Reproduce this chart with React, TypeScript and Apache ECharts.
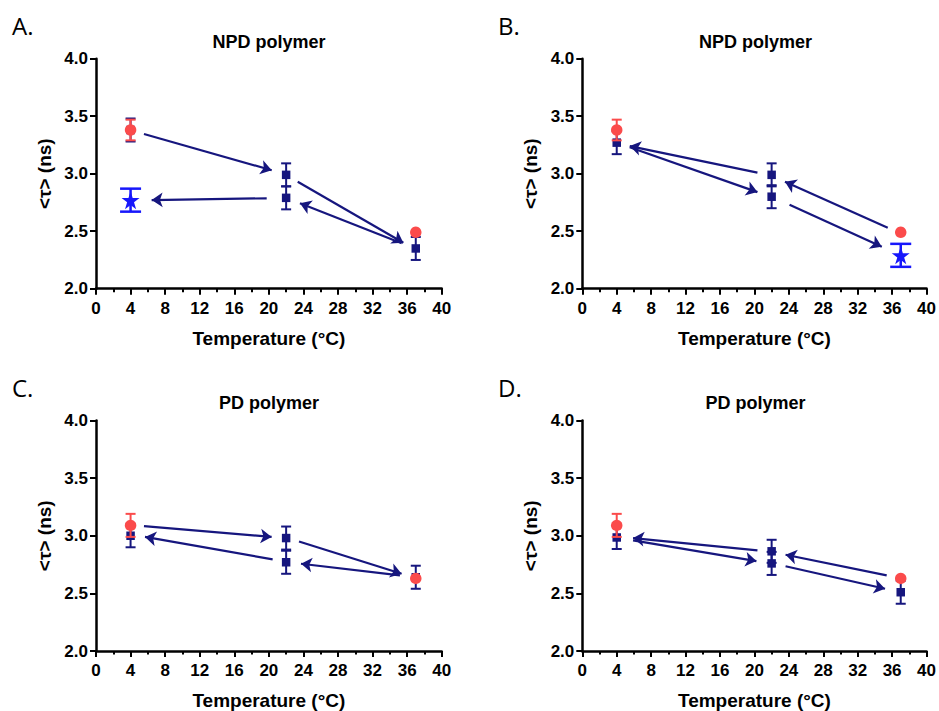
import React, { useEffect, useRef } from "react";
import * as echarts from "echarts";

// ---- axis ticks & labels ----
const xTicks = [0, 4, 8, 12, 16, 20, 24, 28, 32, 36, 40];
const yTicks = [2.0, 2.5, 3.0, 3.5, 4.0];
const panelLetters = ["A.", "B.", "C.", "D."];
const panelTitles = ["NPD polymer", "NPD polymer", "PD polymer", "PD polymer"];
const xAxisTitle = "Temperature (°C)";
const yAxisTitle = "<τ> (ns)";

// ---- data: [temperature °C, mean <τ> ns, error ns] ----
const navyA = [[4, 3.38, 0.1], [22, 2.99, 0.1], [22, 2.79, 0.1], [37, 2.35, 0.1]];
const redA = [[4, 3.38, 0.09], [37, 2.49, 0]];
const starA = [[4, 2.77, 0.1]];
const navyB = [[4, 3.27, 0.1], [22, 2.99, 0.1], [22, 2.8, 0.1]];
const redB = [[4, 3.38, 0.09], [37, 2.49, 0]];
const starB = [[37, 2.29, 0.1]];
const navyC = [[4, 3.0, 0.1], [22, 2.98, 0.1], [22, 2.77, 0.1], [37, 2.64, 0.1]];
const redC = [[4, 3.09, 0.1], [37, 2.63, 0]];
const starC: number[][] = [];
const navyD = [[4, 2.985, 0.1], [22, 2.865, 0.1], [22, 2.76, 0.1], [37, 2.51, 0.1]];
const redD = [[4, 3.09, 0.1], [37, 2.63, 0]];
const starD: number[][] = [];

// ---- arrows: [x1, y1, x2, y2] (arrowhead at the second point) ----
const arrowsA = [[5.55, 3.345, 20.33, 3.03], [19.75, 2.786, 6.44, 2.771], [23.34, 2.93, 35.56, 2.4], [35.37, 2.395, 23.6, 2.743]];
const arrowsB = [[20.35, 3.01, 5.51, 3.24], [5.51, 3.23, 20.35, 2.84], [35.49, 2.53, 23.55, 2.93], [24.08, 2.73, 34.8, 2.365]];
const arrowsC = [[5.55, 3.084, 20.32, 2.99], [20.44, 2.795, 5.67, 2.99], [23.49, 2.95, 35.36, 2.67], [35.17, 2.656, 23.72, 2.757]];
const arrowsD = [[20.35, 2.873, 5.9, 2.98], [5.9, 2.96, 20.23, 2.78], [35.37, 2.656, 23.62, 2.835], [23.62, 2.735, 35.18, 2.54]];

const navyAll = [navyA, navyB, navyC, navyD];
const redAll = [redA, redB, redC, redD];
const starAll = [starA, starB, starC, starD];
const arrowsAll = [arrowsA, arrowsB, arrowsC, arrowsD];

// ---- layout ----
const grids = [
  { left: 96, top: 58.7, width: 345.7, height: 230 },
  { left: 582.3, top: 58.7, width: 346, height: 230 },
  { left: 96, top: 420.5, width: 345.7, height: 230.5 },
  { left: 582.3, top: 420.5, width: 346, height: 230.5 },
];
const letterPos = [[12, 25], [498, 25], [12, 387], [498, 387.5]];
const titlePos = [[269, 41.7], [755.5, 41.7], [269, 403], [755.5, 402.7]];

const NAVY = "#16167e";
const RED = "#fb4b4b";
const BLUE = "#1717fb";
const FONT = "'Liberation Sans', Arial, sans-serif";
const STAR = "path://M50,0 L61.2,34.5 L97.6,34.5 L68.2,55.9 L79.4,90.5 L50,69.1 L20.6,90.5 L31.8,55.9 L2.4,34.5 L38.8,34.5 Z";

function errRender(color: string, half: number, lw: number) {
  return (params: any, api: any) => {
    const x = api.value(0);
    const y = api.value(1);
    const e = api.value(2);
    if (!e) return null;
    const t = api.coord([x, y + e]);
    const b = api.coord([x, y - e]);
    const st = { stroke: color, lineWidth: lw };
    return {
      type: "group",
      children: [
        { type: "line", shape: { x1: t[0], y1: t[1], x2: b[0], y2: b[1] }, style: st },
        { type: "line", shape: { x1: t[0] - half, y1: t[1], x2: t[0] + half, y2: t[1] }, style: st },
        { type: "line", shape: { x1: b[0] - half, y1: b[1], x2: b[0] + half, y2: b[1] }, style: st },
      ],
    };
  };
}

export default function App() {
  const ref = useRef<HTMLDivElement>(null);
  useEffect(() => {
    if (!ref.current) return;
    const chart = echarts.init(ref.current, undefined, { renderer: "svg" });
    const xAxis: any[] = [];
    const yAxis: any[] = [];
    const series: any[] = [];
    const graphic: any[] = [];
    grids.forEach((g, i) => {
      xAxis.push({
        gridIndex: i,
        type: "value",
        min: xTicks[0],
        max: xTicks[xTicks.length - 1],
        interval: xTicks[1] - xTicks[0],
        axisLine: { show: true, onZero: false, lineStyle: { color: "#000", width: 2.5 } },
        axisTick: { show: true, length: 6, lineStyle: { color: "#000", width: 2 } },
        minorTick: { show: true, splitNumber: 2, length: 3.5, lineStyle: { color: "#000", width: 2 } },
        splitLine: { show: false },
        minorSplitLine: { show: false },
        axisLabel: { color: "#000", fontSize: 17, fontWeight: "bold", fontFamily: FONT, margin: 11 },
        name: xAxisTitle,
        nameLocation: "middle",
        nameGap: 40,
        nameTextStyle: { color: "#000", fontSize: 19, fontWeight: "bold", fontFamily: FONT },
      });
      yAxis.push({
        gridIndex: i,
        type: "value",
        min: yTicks[0],
        max: yTicks[yTicks.length - 1],
        interval: yTicks[1] - yTicks[0],
        axisLine: { show: true, onZero: false, lineStyle: { color: "#000", width: 2.5 } },
        axisTick: { show: true, length: 6, lineStyle: { color: "#000", width: 2 } },
        splitLine: { show: false },
        axisLabel: {
          color: "#000",
          fontSize: 17,
          fontWeight: "bold",
          fontFamily: FONT,
          margin: 8,
          formatter: (v: number) => v.toFixed(1),
        },
        name: yAxisTitle,
        nameLocation: "middle",
        nameGap: 42,
        nameTextStyle: { color: "#000", fontSize: 19, fontWeight: "bold", fontFamily: FONT },
      });
      const common = { xAxisIndex: i, yAxisIndex: i, silent: true };
      series.push({
        ...common,
        type: "custom",
        renderItem: errRender(NAVY, 5, 2),
        data: navyAll[i],
        encode: { x: 0, y: 1 },
        z: 2,
      });
      series.push({
        ...common,
        type: "scatter",
        symbol: "rect",
        symbolSize: 8.5,
        itemStyle: { color: NAVY, opacity: 1 },
        data: navyAll[i].map((d) => [d[0], d[1]]),
        z: 3,
      });
      series.push({
        ...common,
        type: "custom",
        renderItem: errRender(RED, 5, 2),
        data: redAll[i],
        encode: { x: 0, y: 1 },
        z: 4,
      });
      series.push({
        ...common,
        type: "scatter",
        symbol: "circle",
        symbolSize: 11.5,
        itemStyle: { color: RED, opacity: 1 },
        data: redAll[i].map((d) => [d[0], d[1]]),
        z: 5,
      });
      if (starAll[i].length) {
        series.push({
          ...common,
          type: "custom",
          renderItem: errRender(BLUE, 10.5, 2.5),
          data: starAll[i],
          encode: { x: 0, y: 1 },
          z: 6,
        });
        series.push({
          ...common,
          type: "scatter",
          symbol: STAR,
          symbolSize: 18,
          itemStyle: { color: BLUE, opacity: 1 },
          data: starAll[i].map((d) => [d[0], d[1]]),
          z: 7,
        });
      }
      series.push({
        ...common,
        type: "lines",
        coordinateSystem: "cartesian2d",
        symbol: ["none", "arrow"],
        symbolSize: 11,
        lineStyle: { color: NAVY, width: 2.2, opacity: 1, curveness: 0 },
        data: arrowsAll[i].map((a) => ({ coords: [[a[0], a[1]], [a[2], a[3]]] })),
        z: 8,
      });
      graphic.push({
        type: "text",
        x: letterPos[i][0],
        y: letterPos[i][1],
        style: {
          text: panelLetters[i],
          fill: "#000",
          font: "24px 'Open Sans', 'Noto Sans', sans-serif",
          fontSize: 24,
          fontFamily: "'Open Sans', 'Noto Sans', sans-serif",
          align: "left",
          textAlign: "left",
          verticalAlign: "middle",
          textVerticalAlign: "middle",
        },
      });
      graphic.push({
        type: "text",
        x: titlePos[i][0],
        y: titlePos[i][1],
        style: {
          text: panelTitles[i],
          fill: "#000",
          font: "bold 18px " + FONT,
          fontSize: 18,
          fontWeight: "bold",
          fontFamily: FONT,
          align: "center",
          textAlign: "center",
          verticalAlign: "middle",
          textVerticalAlign: "middle",
        },
      });
    });
    chart.setOption({
      animation: false,
      backgroundColor: "#fff",
      grid: grids.map((g) => ({ ...g, containLabel: false })),
      xAxis,
      yAxis,
      series,
      graphic,
    });
    return () => chart.dispose();
  }, []);
  return (
    <div
      ref={ref}
      style={{ position: "absolute", left: 0, top: 0, width: 939, height: 711 }}
    />
  );
}
